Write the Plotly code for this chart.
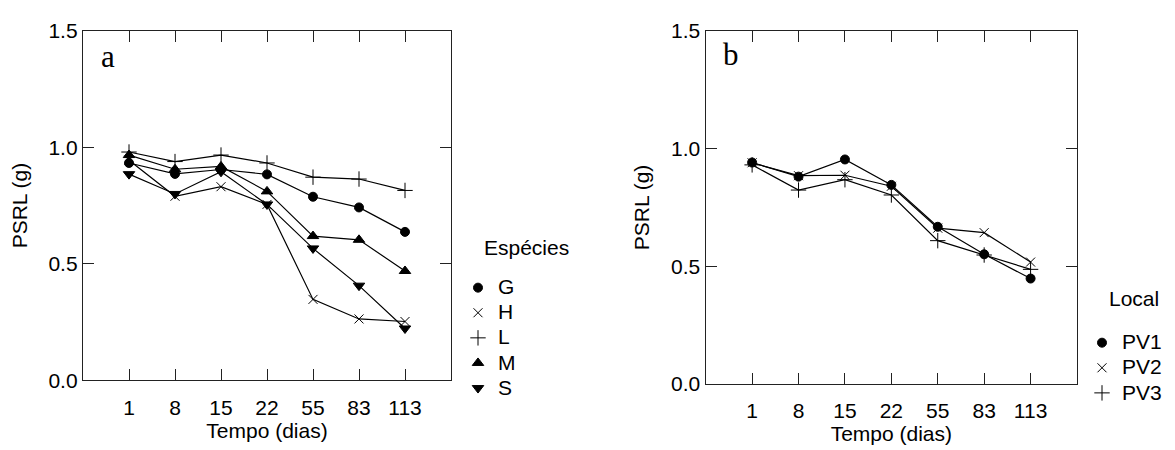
import plotly.graph_objects as go

# Sampling days (categorical x axis)
days = ["1", "8", "15", "22", "55", "83", "113"]

# Panel a: PSRL (g) by species
species_names = ["G", "H", "L", "M", "S"]
g_vals = [0.933, 0.886, 0.905, 0.884, 0.788, 0.742, 0.637]
h_vals = [0.945, 0.790, 0.831, 0.755, 0.347, 0.263, 0.252]
l_vals = [0.980, 0.939, 0.967, 0.933, 0.872, 0.864, 0.815]
m_vals = [0.967, 0.906, 0.918, 0.811, 0.619, 0.603, 0.469]
s_vals = [0.885, 0.800, 0.895, 0.755, 0.566, 0.406, 0.222]

# Panel b: PSRL (g) by site
local_names = ["PV1", "PV2", "PV3"]
pv1_vals = [0.941, 0.881, 0.954, 0.846, 0.668, 0.551, 0.448]
pv2_vals = [0.940, 0.885, 0.887, 0.840, 0.662, 0.643, 0.518]
pv3_vals = [0.931, 0.824, 0.868, 0.803, 0.609, 0.548, 0.487]

y_ticks = [0.0, 0.5, 1.0, 1.5]

FONT = "Liberation Sans, Arial, sans-serif"
SERIF = "Liberation Serif, Times New Roman, serif"
INK = "black"
TXT = 21

symbols_a = ["circle", "x-thin", "cross-thin", "triangle-up", "triangle-down"]
sizes_a = [9, 9, 11, 10, 10]
symbols_b = ["circle", "x-thin", "cross-thin"]
sizes_b = [9, 9, 11]

fig = go.Figure()


def add_series(name, vals, symbol, size, xa, ya, legend):
    # connecting line (kept out of the legend)
    fig.add_trace(go.Scatter(
        x=days, y=vals, mode="lines", xaxis=xa, yaxis=ya,
        line=dict(color=INK, width=1.2), showlegend=False, hoverinfo="skip",
    ))
    # markers (shown in the legend); label drawn larger than the row pitch font
    fig.add_trace(go.Scatter(
        x=days, y=vals, mode="markers", xaxis=xa, yaxis=ya,
        name=f'<span style="font-size:{TXT}px">{name}</span>',
        legend=legend,
        marker=dict(symbol=symbol, size=size, color=INK,
                    line=dict(color=INK, width=1)),
    ))


for name, vals, sym, sz in zip(species_names, [g_vals, h_vals, l_vals, m_vals, s_vals],
                               symbols_a, sizes_a):
    add_series(name, vals, sym, sz, "x", "y", "legend")

for name, vals, sym, sz in zip(local_names, [pv1_vals, pv2_vals, pv3_vals],
                               symbols_b, sizes_b):
    add_series(name, vals, sym, sz, "x2", "y2", "legend2")

W, H = 1175, 450


def px_x(p):
    return p / W


def px_y(p):
    return 1 - p / H


axis_common = dict(
    showline=True, linecolor="#222", linewidth=1.4, mirror="ticks",
    ticks="inside", ticklen=11, tickwidth=1.2, tickcolor="#222",
    showgrid=False, zeroline=False,
    tickfont=dict(family=FONT, size=TXT, color=INK),
    title_font=dict(family=FONT, size=TXT, color=INK),
)

xaxis_common = dict(axis_common, type="category", categoryorder="array",
                    categoryarray=days, range=[-1, 7], ticklabelstandoff=8)
yaxis_common = dict(axis_common, range=[0, 1.5], tickvals=y_ticks,
                    tickformat=".1f")

legend_common = dict(xanchor="left", yanchor="top", bgcolor="rgba(0,0,0,0)",
                     font=dict(family=FONT, size=17, color=INK),
                     traceorder="normal")

fig.update_layout(
    width=W, height=H,
    margin=dict(l=0, r=0, t=0, b=0),
    paper_bgcolor="white", plot_bgcolor="white",
    font=dict(family=FONT, size=TXT, color=INK),
    xaxis=dict(xaxis_common, domain=[px_x(83), px_x(451)], anchor="y",
               title=dict(text="Tempo (dias)", standoff=3)),
    yaxis=dict(yaxis_common, domain=[px_y(388), px_y(20)], anchor="x",
               title=dict(text="PSRL (g)", standoff=15)),
    xaxis2=dict(xaxis_common, domain=[px_x(705.7), px_x(1077)], anchor="y2",
                title=dict(text="Tempo (dias)", standoff=3)),
    yaxis2=dict(yaxis_common, domain=[px_y(392), px_y(20)], anchor="x2",
                title=dict(text="PSRL (g)", standoff=15)),
    legend=dict(legend_common, x=px_x(458), y=px_y(272)),
    legend2=dict(legend_common, x=px_x(1082), y=px_y(330)),
    annotations=[
        dict(text="Espécies", x=px_x(482), y=px_y(248), xref="paper", yref="paper",
             xanchor="left", yanchor="middle", showarrow=False,
             font=dict(family=FONT, size=TXT, color=INK)),
        dict(text="Local", x=px_x(1107), y=px_y(302), xref="paper", yref="paper",
             xanchor="left", yanchor="middle", showarrow=False,
             font=dict(family=FONT, size=TXT, color=INK)),
        dict(text="a", x=px_x(99), y=px_y(47), xref="paper", yref="paper",
             xanchor="left", yanchor="middle", showarrow=False,
             font=dict(family=SERIF, size=31, color=INK)),
        dict(text="b", x=px_x(721), y=px_y(45), xref="paper", yref="paper",
             xanchor="left", yanchor="middle", showarrow=False,
             font=dict(family=SERIF, size=31, color=INK)),
    ],
)

fig.write_html("out.html")
